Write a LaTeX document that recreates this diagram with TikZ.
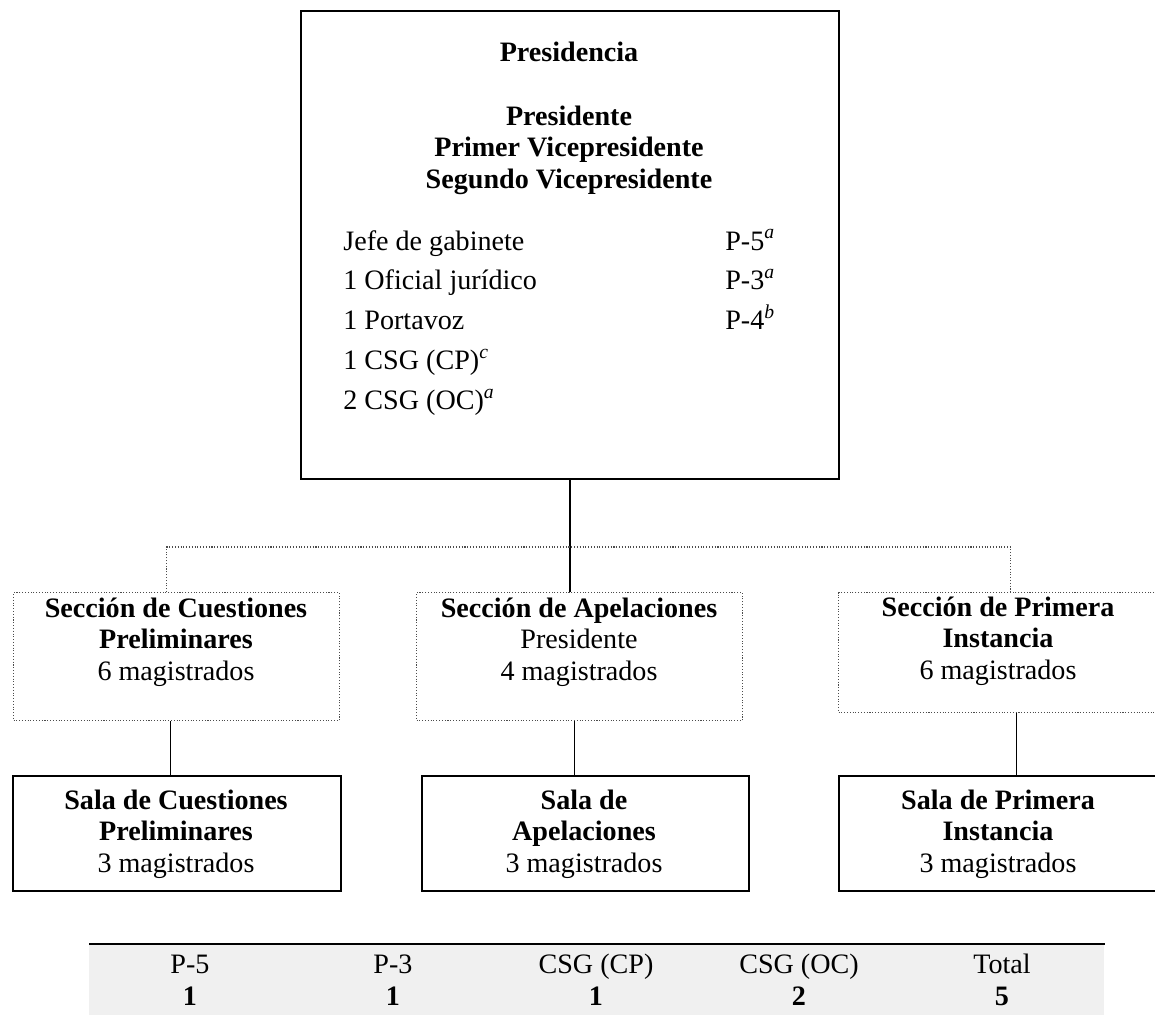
\documentclass[tikz,border=0pt]{standalone}
\usepackage{fontspec}
\setmainfont{Liberation Serif}
\usepackage{tikz}
\usetikzlibrary{positioning}

\newcommand{\lineas}[1]{\begin{tabular}[t]{@{}c@{}}#1\end{tabular}}
\newcommand{\nota}[1]{\textsuperscript{\itshape #1}}

\tikzset{
  caja/.style={draw, line width=1pt, anchor=north west, inner sep=0pt},
  seccion/.style={draw=black!70, densely dotted, line width=0.6pt, anchor=north west, inner sep=0pt},
  tabla/.style={fill=black!6, anchor=north west, inner sep=0pt},
  link/.style={line width=1pt},
  bus/.style={draw=black!70, densely dotted, line width=0.6pt},
  txt/.style={anchor=base, inner sep=0pt, font=\fontsize{16}{18}\selectfont},
}

\begin{document}
\begin{tikzpicture}[x=0.02cm, y=-0.02cm]
\useasboundingbox (0,0) rectangle (1155,1014);
% Presidencia
\node[caja, minimum width=10.76cm, minimum height=9.36cm] (presid) at (300,10) {};
\node[txt] (titulo) at (569,61) {\bfseries Presidencia};
\node[txt] (cargos) at (569,125) {\bfseries\lineas{Presidente\\Primer Vicepresidente\\Segundo Vicepresidente}};
\node[txt, anchor=base west] (personal) at (343,250) {\renewcommand{\arraystretch}{1.26}%
  \begin{tabular}[t]{@{}l@{}}Jefe de gabinete\\1 Oficial jurídico\\1 Portavoz\\1 CSG (CP)\nota{c}\\2 CSG (OC)\nota{a}\end{tabular}};
\node[txt, anchor=base west] (grados) at (725,250) {\renewcommand{\arraystretch}{1.26}%
  \begin{tabular}[t]{@{}l@{}}P-5\nota{a}\\P-3\nota{a}\\P-4\nota{b}\end{tabular}};

% Secciones
\node[seccion, minimum width=6.52cm, minimum height=2.56cm] (secCP) at (13,592) {};
\node[seccion, minimum width=6.52cm, minimum height=2.56cm] (secAP) at (416,592) {};
\node[seccion, minimum width=6.4cm, minimum height=2.4cm] (secPI) at (838,592) {};
\node[txt] (tsecCP) at (176,617) {\lineas{\bfseries Sección de Cuestiones\\\bfseries Preliminares\\6 magistrados}};
\node[txt] (tsecAP) at (579,617) {\lineas{\bfseries Sección de Apelaciones\\Presidente\\4 magistrados}};
\node[txt] (tsecPI) at (998,616) {\lineas{\bfseries Sección de Primera\\\bfseries Instancia\\6 magistrados}};

% Salas
\node[caja, minimum width=6.56cm, minimum height=2.3cm] (salaCP) at (12,775) {};
\node[caja, minimum width=6.54cm, minimum height=2.3cm] (salaAP) at (421,775) {};
\node[caja, minimum width=6.4cm, minimum height=2.3cm] (salaPI) at (838,775) {};
\node[txt] (tsalaCP) at (176,809) {\lineas{\bfseries Sala de Cuestiones\\\bfseries Preliminares\\3 magistrados}};
\node[txt] (tsalaAP) at (584,809) {\lineas{\bfseries Sala de\\\bfseries Apelaciones\\3 magistrados}};
\node[txt] (tsalaPI) at (998,809) {\lineas{\bfseries Sala de Primera\\\bfseries Instancia\\3 magistrados}};

% Conexiones
\draw[link] (presid.south) -- (presid.south |- secAP.north);
\draw[bus] ([xshift=-0.2cm]secCP.north) -- ++(0,-45) -| ([xshift=0.24cm]secPI.north);
\draw[link] ([xshift=-0.12cm]secCP.south) -- ([xshift=-0.12cm]secCP.south |- salaCP.north);
\draw[link] ([xshift=-0.1cm]secAP.south) -- ([xshift=-0.1cm]secAP.south |- salaAP.north);
\draw[link] ([xshift=0.36cm]secPI.south) -- ([xshift=0.36cm]secPI.south |- salaPI.north);

% Resumen de puestos
\node[tabla, minimum width=20.3cm, minimum height=1.6cm] (resumen) at (89,944) {};
\draw[line width=1.2pt] (resumen.north west) -- (resumen.north east);
\foreach \x/\grado/\num in {190/P-5/1, 393/P-3/1, 596/CSG (CP)/1, 799/CSG (OC)/2, 1002/Total/5} {
  \node[txt] (grado\x) at (\x,973) {\grado};
  \node[txt] (cant\x) at (\x,1005) {\bfseries\num};
}
\end{tikzpicture}
\end{document}
